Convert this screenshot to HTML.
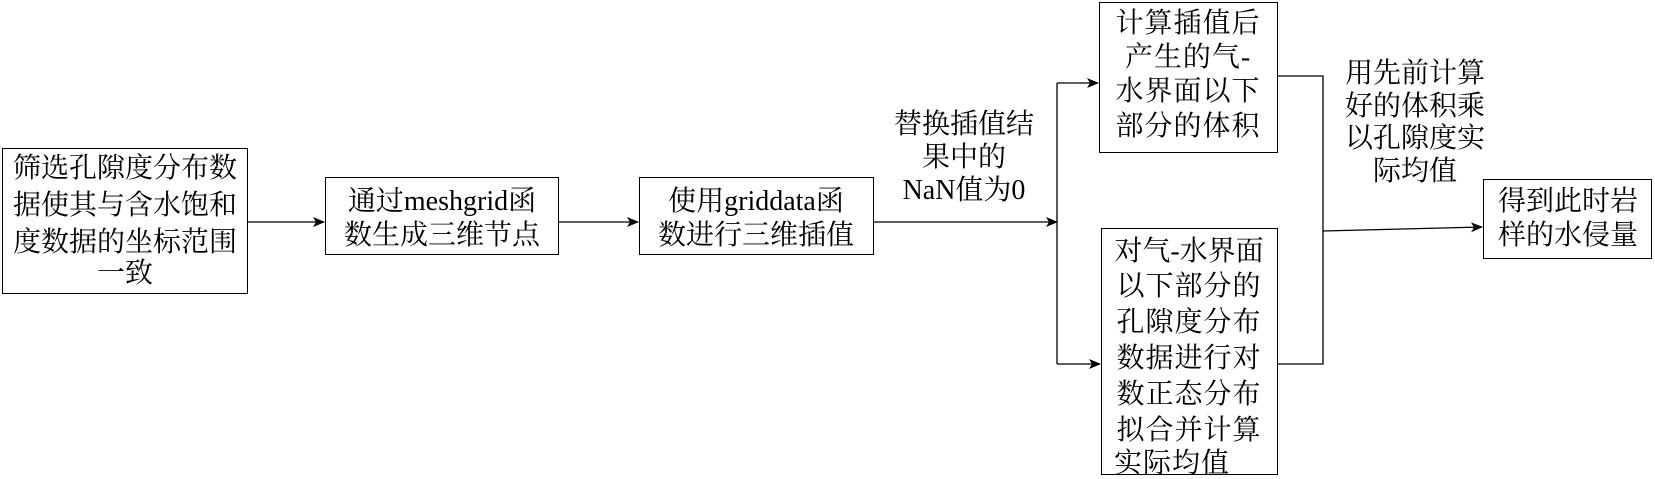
<!DOCTYPE html>
<html><head><meta charset="utf-8"><style>
body{margin:0;width:1655px;height:478px;background:#fff;position:relative;overflow:hidden;font-family:"Liberation Serif","Noto Serif CJK SC",serif;font-size:28px;color:#000}
.b{position:absolute;border:1.5px solid #000;box-sizing:border-box}
.t{position:absolute;white-space:nowrap;transform:translate(-50%,-50%);line-height:1}
</style></head><body>
<svg width="1655" height="478" style="position:absolute;left:0;top:0">
<defs><marker id="a" markerWidth="12" markerHeight="10" refX="11" refY="5" orient="auto" markerUnits="userSpaceOnUse"><path d="M0,0 L12,5 L0,10 L3,5z" fill="#000"/></marker></defs>
<g stroke="#000" stroke-width="1.3" fill="none">
<line x1="248" y1="222" x2="324" y2="222" marker-end="url(#a)"/>
<line x1="559" y1="222" x2="638" y2="222" marker-end="url(#a)"/>
<line x1="874" y1="222" x2="1057" y2="222" marker-end="url(#a)"/>
<line x1="1057" y1="83" x2="1057" y2="364"/>
<line x1="1057" y1="83" x2="1098" y2="83" marker-end="url(#a)"/>
<line x1="1057" y1="364" x2="1100" y2="364" marker-end="url(#a)"/>
<polyline points="1278,76 1323,76 1323,364 1278,364"/>
<line x1="1323" y1="231" x2="1482" y2="227" marker-end="url(#a)"/>
</g></svg>
<div class="b" style="left:2px;top:148px;width:246px;height:146px"></div>
<div class="b" style="left:325px;top:177px;width:234px;height:78px"></div>
<div class="b" style="left:639px;top:177px;width:235px;height:78px"></div>
<div class="b" style="left:1099px;top:2px;width:179px;height:151px"></div>
<div class="b" style="left:1101px;top:228px;width:177px;height:247px"></div>
<div class="b" style="left:1483px;top:179px;width:169px;height:80px"></div>

<div class="t" style="left:125px;top:169px">筛选孔隙度分布数</div>
<div class="t" style="left:125px;top:206px">据使其与含水饱和</div>
<div class="t" style="left:125px;top:243px">度数据的坐标范围</div>
<div class="t" style="left:125px;top:274px">一致</div>

<div class="t" style="left:442px;top:202px">通过meshgrid函</div>
<div class="t" style="left:442px;top:236px">数生成三维节点</div>
<div class="t" style="left:756px;top:202px">使用griddata函</div>
<div class="t" style="left:756px;top:236px">数进行三维插值</div>

<div class="t" style="left:964px;top:125px">替换插值结</div>
<div class="t" style="left:964px;top:158px">果中的</div>
<div class="t" style="left:964px;top:191px">NaN值为0</div>

<div class="t" style="left:1188px;top:24px;letter-spacing:1px">计算插值后</div>
<div class="t" style="left:1188px;top:58px;letter-spacing:1px">产生的气-</div>
<div class="t" style="left:1188px;top:92px;letter-spacing:1px">水界面以下</div>
<div class="t" style="left:1188px;top:127px;letter-spacing:1px">部分的体积</div>

<div class="t" style="left:1189px;top:252px;letter-spacing:0px">对气-水界面</div>
<div class="t" style="left:1189px;top:287px;letter-spacing:1px">以下部分的</div>
<div class="t" style="left:1189px;top:323px;letter-spacing:1px">孔隙度分布</div>
<div class="t" style="left:1189px;top:359px;letter-spacing:1px">数据进行对</div>
<div class="t" style="left:1189px;top:395px;letter-spacing:1px">数正态分布</div>
<div class="t" style="left:1189px;top:431px;letter-spacing:1px">拟合并计算</div>
<div class="t" style="left:1172px;top:464px;letter-spacing:1px">实际均值</div>

<div class="t" style="left:1415px;top:74px">用先前计算</div>
<div class="t" style="left:1415px;top:107px">好的体积乘</div>
<div class="t" style="left:1415px;top:139px">以孔隙度实</div>
<div class="t" style="left:1415px;top:172px">际均值</div>

<div class="t" style="left:1568px;top:202px">得到此时岩</div>
<div class="t" style="left:1568px;top:236px">样的水侵量</div>
</body></html>
